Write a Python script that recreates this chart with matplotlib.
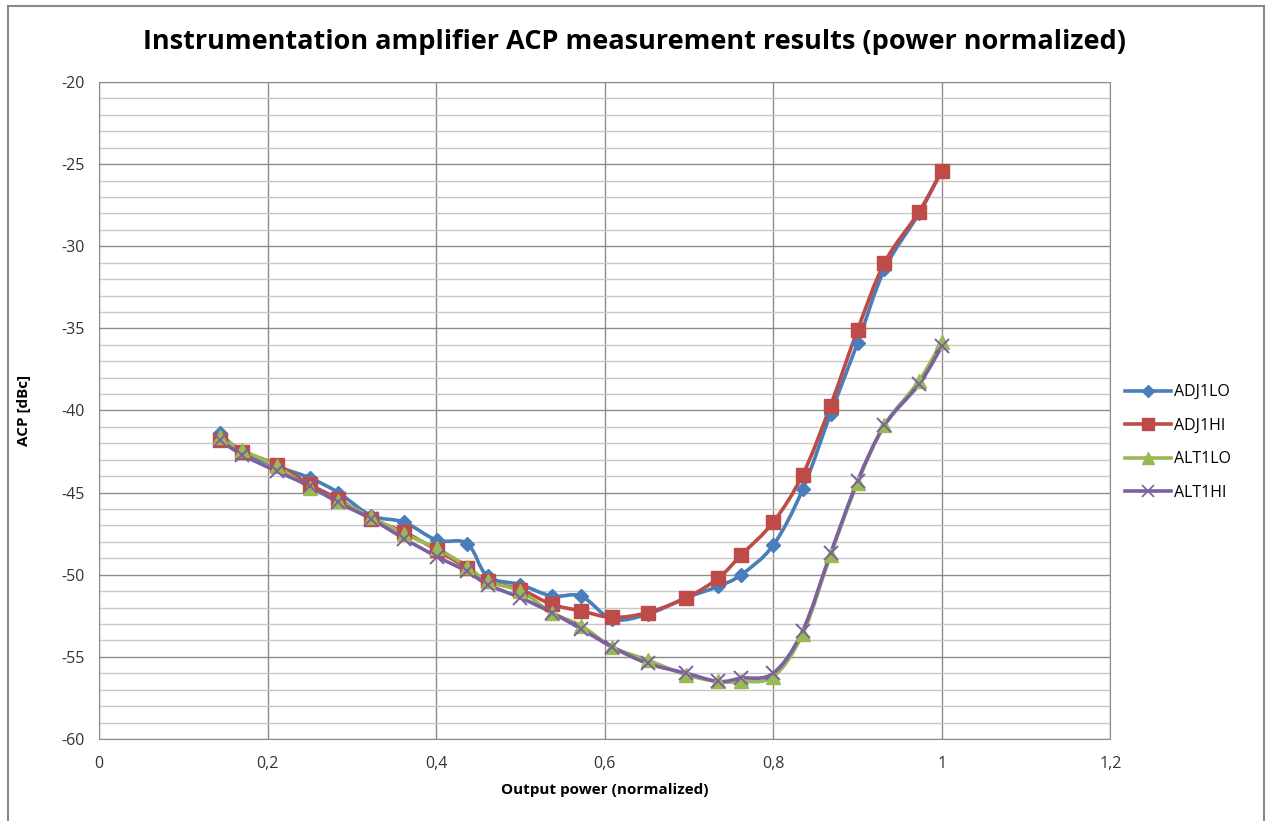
import numpy as np
import matplotlib
matplotlib.use("Agg")
import matplotlib.pyplot as plt
from matplotlib.path import Path
from matplotlib.patches import PathPatch, Rectangle
from matplotlib.ticker import MultipleLocator, FuncFormatter

plt.rcParams['font.family'] = ['Open Sans', 'DejaVu Sans']

# output power (normalized)
power = [0.143, 0.170, 0.211, 0.250, 0.284, 0.323, 0.362, 0.401, 0.437, 0.461,
         0.500, 0.537, 0.572, 0.609, 0.651, 0.697, 0.735, 0.762, 0.800, 0.835,
         0.868, 0.900, 0.932, 0.973, 1.000]

adj1lo = [-41.4, -42.5, -43.4, -44.1, -45.0, -46.4, -46.8, -47.9, -48.1, -50.1,
          -50.6, -51.3, -51.3, -52.7, -52.4, -51.4, -50.7, -50.0, -48.2, -44.8,
          -40.2, -35.9, -31.4, -28.0, -25.4]
adj1hi = [-41.8, -42.5, -43.3, -44.5, -45.4, -46.6, -47.4, -48.5, -49.6, -50.4,
          -50.9, -51.8, -52.2, -52.6, -52.3, -51.4, -50.2, -48.8, -46.8, -43.9,
          -39.7, -35.1, -31.0, -27.9, -25.4]
alt1lo = [-41.6, -42.4, -43.4, -44.7, -45.5, -46.5, -47.5, -48.4, -49.5, -50.4,
          -51.0, -52.3, -53.1, -54.4, -55.2, -56.1, -56.5, -56.5, -56.2, -53.6,
          -48.8, -44.4, -40.9, -38.2, -35.8]
alt1hi = [-41.8, -42.7, -43.7, -44.6, -45.6, -46.6, -47.8, -48.9, -49.8, -50.6,
          -51.4, -52.3, -53.3, -54.4, -55.4, -56.0, -56.5, -56.3, -56.0, -53.4,
          -48.7, -44.3, -40.9, -38.4, -36.1]

series = [
    ("ADJ1LO", adj1lo, "#4a7ebb", "D", 7.5),
    ("ADJ1HI", adj1hi, "#be4b48", "s", 10),
    ("ALT1LO", alt1lo, "#98b954", "^", 10),
    ("ALT1HI", alt1hi, "#7d60a0", "x", 10),
]


def smooth_path(x, y):
    # Excel-like smoothed line drawn as cubic bezier segments through the points
    x = np.asarray(x, float)
    y = np.asarray(y, float)
    n = len(x)
    verts = [(x[0], y[0])]
    codes = [Path.MOVETO]
    for i in range(n - 1):
        i0 = max(i - 1, 0)
        i3 = min(i + 2, n - 1)
        c1 = (x[i] + (x[i + 1] - x[i0]) / 6, y[i] + (y[i + 1] - y[i0]) / 6)
        c2 = (x[i + 1] - (x[i3] - x[i]) / 6, y[i + 1] - (y[i3] - y[i]) / 6)
        verts += [c1, c2, (x[i + 1], y[i + 1])]
        codes += [Path.CURVE4] * 3
    return Path(verts, codes)


fig = plt.figure(figsize=(12.69, 8.21), dpi=100)
ax = fig.add_axes([0.078, 0.0999, 0.797, 0.8002])

fig.patches.append(Rectangle((8 / 1269, -0.1), (1264 - 8) / 1269, 1.1 - 6 / 821,
                             transform=fig.transFigure, fill=False,
                             edgecolor="#888888", linewidth=1.5))

for name, vals, color, marker, ms in series:
    ax.add_patch(PathPatch(smooth_path(power, vals), facecolor="none",
                           edgecolor=color, linewidth=2.6, zorder=3))
    if marker == "x":
        ax.plot(power, vals, linestyle="none", marker=marker, markersize=ms,
                markeredgecolor=color, markeredgewidth=1.4, zorder=4)
    else:
        ax.plot(power, vals, linestyle="none", marker=marker, markersize=ms,
                color=color, markeredgecolor=color, zorder=4)
    ax.plot([], [], color=color, linewidth=2.6, marker=marker, markersize=ms * 0.8,
            markeredgewidth=1.2 if marker == "x" else 1, label=name)

ax.set_xlim(0, 1.2)
ax.set_ylim(-60, -20)
ax.xaxis.set_major_locator(MultipleLocator(0.2))
ax.yaxis.set_major_locator(MultipleLocator(5))
ax.yaxis.set_minor_locator(MultipleLocator(1))
ax.xaxis.set_major_formatter(FuncFormatter(lambda v, p: ("%g" % round(v, 2)).replace(".", ",")))
ax.yaxis.set_major_formatter(FuncFormatter(lambda v, p: "%g" % v))

ax.grid(True, which="major", color="#8c8c8c", linewidth=1.0)
ax.grid(True, which="minor", axis="y", color="#c8c8c8", linewidth=1.0)
ax.set_axisbelow(True)
ax.tick_params(which="both", length=0, labelsize=11.5, colors="#333333", pad=10)
ax.tick_params(axis="x", pad=12)
for s in ax.spines.values():
    s.set_color("#8c8c8c")

ax.set_xlabel("Output power (normalized)", fontsize=11, fontweight="bold", labelpad=8)
ax.set_ylabel("ACP [dBc]", fontsize=11, fontweight="bold", labelpad=22)
fig.text(0.5, 0.949, "Instrumentation amplifier ACP measurement results (power normalized)",
         ha="center", va="center", fontsize=19.5, fontweight="bold")

ax.legend(loc="center left", bbox_to_anchor=(1.0, 0.451), frameon=False,
          fontsize=11.5, handlelength=2.9, labelspacing=1.1, handletextpad=0.2)

fig.savefig("out.png", dpi=100)
